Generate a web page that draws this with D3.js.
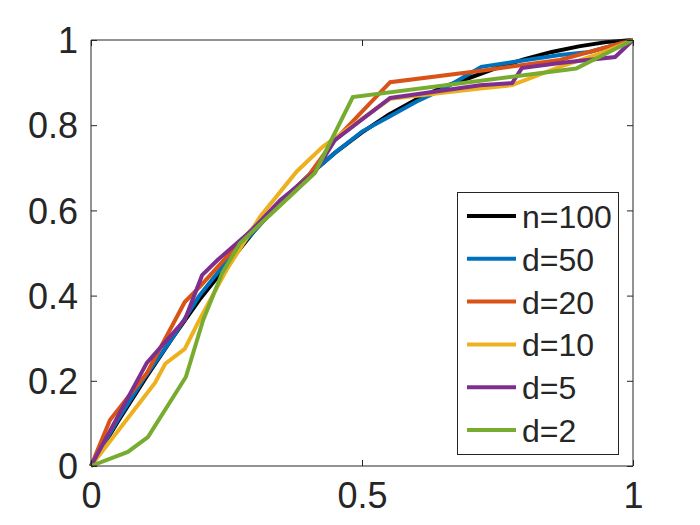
<!DOCTYPE html>
<html>
<head>
<meta charset="utf-8">
<script src="https://cdn.jsdelivr.net/npm/d3@7"></script>
<style>
html,body{margin:0;padding:0;background:#fff;}
svg{display:block;}
text{font-family:"Liberation Sans",Arial,Helvetica,sans-serif;fill:#262626;}
</style>
</head>
<body>
<svg id="chart" width="700" height="525"></svg>
<script>
// ---- data ----
const seriesNames = ["n=100","d=50","d=20","d=10","d=5","d=2"];
const seriesColors = ["#000000","#0072BD","#D95319","#EDB120","#7E2F8E","#77AC30"];

const xN100 = [0,0.05,0.1,0.15,0.2,0.25,0.3,0.35,0.4,0.45,0.5,0.55,0.6,0.65,0.7,0.75,0.8,0.85,0.9,0.95,1];
const yN100 = [0,0.105,0.205,0.3,0.39,0.47,0.55,0.62,0.68,0.735,0.783,0.825,0.86,0.89,0.912,0.935,0.955,0.972,0.985,0.995,1];

const xD50 = [0,0.05,0.1,0.15,0.2,0.25,0.3,0.35,0.4,0.45,0.5,0.55,0.6,0.65,0.72,0.865,0.92,1];
const yD50 = [0,0.11,0.21,0.3,0.4,0.48,0.55,0.62,0.68,0.735,0.785,0.82,0.855,0.885,0.937,0.965,0.972,1];

const xD20 = [0,0.035,0.103,0.173,0.2,0.262,0.3,0.35,0.4,0.446,0.552,0.72,0.865,1];
const yD20 = [0,0.108,0.218,0.385,0.42,0.507,0.56,0.62,0.68,0.76,0.901,0.928,0.953,1];

const xD10 = [0,0.118,0.137,0.173,0.2,0.25,0.312,0.38,0.428,0.552,0.718,0.777,0.865,0.948,1];
const yD10 = [0,0.195,0.24,0.275,0.343,0.46,0.585,0.692,0.75,0.862,0.886,0.894,0.937,0.972,1];

const xD5 = [0,0.103,0.173,0.205,0.234,0.297,0.349,0.413,0.45,0.552,0.718,0.777,0.795,0.865,0.967,1];
const yD5 = [0,0.242,0.343,0.448,0.484,0.554,0.624,0.69,0.765,0.864,0.894,0.899,0.934,0.946,0.96,1];

const xD2 = [0,0.068,0.105,0.175,0.207,0.242,0.275,0.413,0.483,0.895,1];
const yD2 = [0,0.033,0.068,0.209,0.343,0.453,0.523,0.688,0.866,0.933,1];

const xTicks = [0,0.5,1];
const xTickLabels = ["0","0.5","1"];
const yTicks = [0,0.2,0.4,0.6,0.8,1];
const yTickLabels = ["0","0.2","0.4","0.6","0.8","1"];

const seriesX = [xN100,xD50,xD20,xD10,xD5,xD2];
const seriesY = [yN100,yD50,yD20,yD10,yD5,yD2];

// ---- layout ----
const L = 91, R = 633, T = 40, B = 466;
const axisColor = "#262626";
const svg = d3.select("#chart");
svg.append("rect").attr("width",700).attr("height",525).attr("fill","#fff");

const x = d3.scaleLinear().domain([0,1]).range([L,R]);
const y = d3.scaleLinear().domain([0,1]).range([B,T]);

// data lines
const line = d3.line().x(d=>x(d[0])).y(d=>y(d[1]));
const g = svg.append("g");
seriesNames.forEach((name,i)=>{
  const pts = seriesX[i].map((v,j)=>[v, seriesY[i][j]]);
  g.append("path").datum(pts)
    .attr("d",line)
    .attr("fill","none")
    .attr("stroke",seriesColors[i])
    .attr("stroke-width",4);
});

// axes (box with inward ticks)
const tickLen = 6;
const fs = 36;
const bottomAxis = d3.axisBottom(x).tickValues(xTicks).tickFormat((d,i)=>xTickLabels[i]).tickSize(-tickLen).tickPadding(16);
const topAxis = d3.axisTop(x).tickValues(xTicks).tickFormat("").tickSize(-tickLen);
const leftAxis = d3.axisLeft(y).tickValues(yTicks).tickFormat((d,i)=>yTickLabels[i]).tickSize(-tickLen).tickPadding(13);
const rightAxis = d3.axisRight(y).tickValues(yTicks).tickFormat("").tickSize(-tickLen);

function style(sel){
  sel.selectAll("path").attr("stroke",axisColor).attr("stroke-width",1);
  sel.selectAll("line").attr("stroke",axisColor).attr("stroke-width",1);
  sel.selectAll("text").attr("fill",axisColor).style("font-size",fs+"px")
     .style("font-family",'"Liberation Sans",Arial,Helvetica,sans-serif');
}
const gb = svg.append("g").attr("transform",`translate(0,${B})`).call(bottomAxis).call(style);
gb.selectAll(".domain").attr("d",`M${L},0H${R}`);
gb.selectAll("text").attr("dy",null).attr("y",42).attr("dominant-baseline","auto");
const gt = svg.append("g").attr("transform",`translate(0,${T})`).call(topAxis).call(style);
gt.selectAll(".domain").attr("d",`M${L},0H${R}`);
const gl = svg.append("g").attr("transform",`translate(${L},0)`).call(leftAxis).call(style);
gl.selectAll(".domain").attr("d",`M0,${T}V${B}`);
gl.selectAll("text").attr("dy","0.35em");
const gr = svg.append("g").attr("transform",`translate(${R},0)`).call(rightAxis).call(style);
gr.selectAll(".domain").attr("d",`M0,${T}V${B}`);

// legend
const lgX = 457, lgY = 192, lgW = 161, lgH = 262;
const lg = svg.append("g");
lg.append("rect").attr("x",lgX+0.5).attr("y",lgY+0.5).attr("width",lgW).attr("height",lgH)
  .attr("fill","#fff").attr("stroke",axisColor).attr("stroke-width",1);
const rowStep = 42.8, row0 = 216;
seriesNames.forEach((name,i)=>{
  const ry = row0 + i*rowStep;
  lg.append("line").attr("x1",467).attr("x2",516).attr("y1",ry).attr("y2",ry)
    .attr("stroke",seriesColors[i]).attr("stroke-width",4);
  lg.append("text").attr("x",522).attr("y",ry+12)
    .style("font-size","32px").attr("fill","#000").text(name);
});
</script>
</body>
</html>
